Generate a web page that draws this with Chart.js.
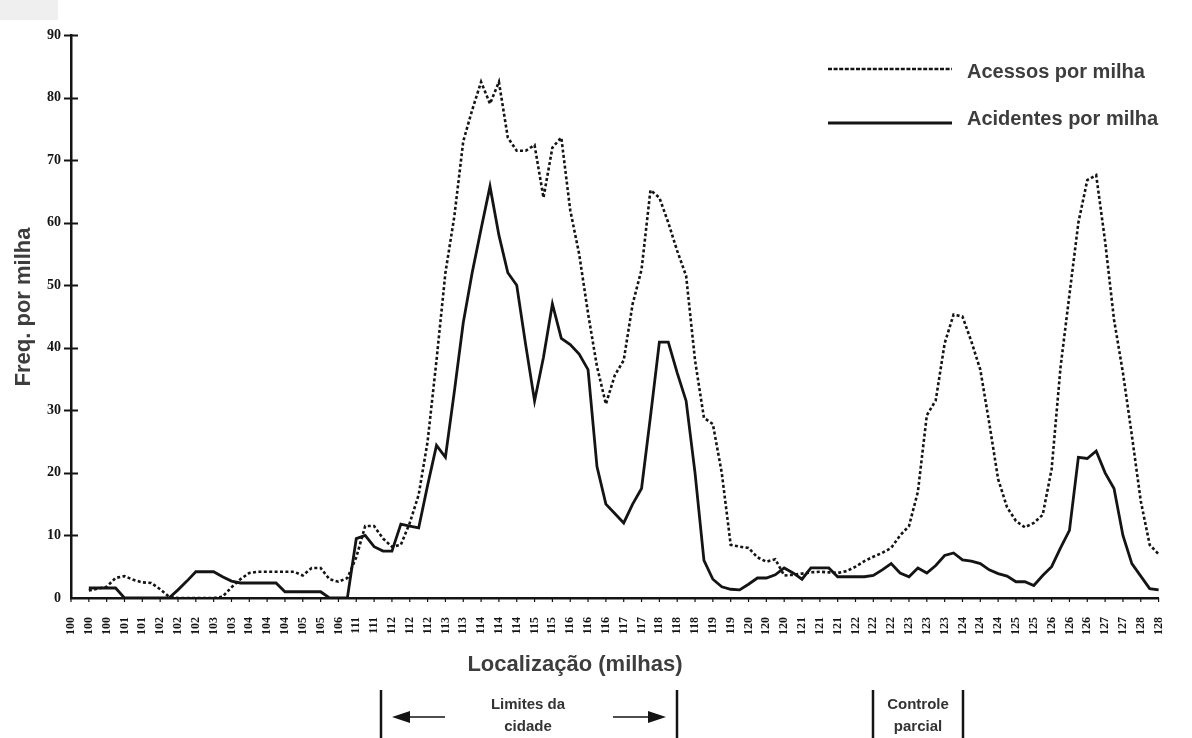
<!DOCTYPE html>
<html>
<head>
<meta charset="utf-8">
<script src="https://cdn.jsdelivr.net/npm/chart.js@4.4.1/dist/chart.umd.min.js"></script>
<style>
  html, body { margin: 0; padding: 0; background: #fff; }
  #wrap { width: 1192px; height: 738px; }
</style>
</head>
<body>
<div id="wrap"><canvas id="chart" width="1192" height="738"></canvas></div>
<script>
// tick labels along the road (miles), one per tick
const tickLabels = ['100','100','100','101','101','102','102','102','103','103','104','104','104','105','105','106',
  '111','111','112','112','112','113','113','114','114','114','115','115','116','116','116','117','117',
  '118','118','118','119','119','120','120','120','121','121','121','122','122','122','123','123','123',
  '124','124','124','125','125','126','126','126','127','127','128','128'];

// readings are taken at every half tick
const accesses = [null, null,
  1.2, 1.5, 1.8, 3.2, 3.5, 2.9, 2.5, 2.4, 1.4, 0.2,
  0, 0, 0, 0, 0, 0.2, 1.7, 3.0, 4.0, 4.2,
  4.2, 4.2, 4.2, 4.2, 3.6, 4.8, 4.8, 3.0, 2.6, 3.2,
  6.5, 11.5, 11.5, 9.5, 8.2, 8.5, 12, 16.5, 25, 38,
  52, 61, 73, 78, 82.5, 79, 82.5, 73.6, 71.5, 71.5,
  72.4, 64, 72, 73.6, 62, 55, 45.5, 37, 31, 35.6,
  38, 47, 52.5, 65.2, 64, 60, 55.5, 51.5, 38, 28.8,
  27.8, 20, 8.5, 8.2, 8.0, 6.5, 5.8, 6.2, 3.6, 3.7,
  3.9, 4.1, 4.2, 4.1, 4.0, 4.3, 5.0, 5.9, 6.6, 7.2,
  8, 10, 11.5, 17, 29.2, 31.6, 40.7, 45.3, 45, 41,
  36.5, 28, 19, 14.5, 12.3, 11.3, 12, 13.3, 20.6, 36.9,
  48.5, 60, 66.8, 67.6, 57, 44.5, 36, 26, 15.5, 8.5, 7];

const accidents = [null, null,
  1.6, 1.6, 1.6, 1.6, 0, 0, 0, 0, 0, 0,
  1.3, 2.7, 4.2, 4.2, 4.2, 3.4, 2.7, 2.4, 2.4, 2.4,
  2.4, 2.4, 1.0, 1.0, 1.0, 1.0, 1.0, 0, 0, 0,
  9.5, 10, 8.2, 7.5, 7.5, 11.8, 11.5, 11.2, 18, 24.4,
  22.5, 33, 44, 52, 59, 65.8, 58, 52, 50, 40.5,
  31.5, 38.5, 47, 41.5, 40.5, 39, 36.5, 21, 15, 13.5,
  12, 15, 17.5, 29, 40.9, 40.9, 36, 31.5, 20, 6,
  3, 1.8, 1.4, 1.3, 2.2, 3.2, 3.2, 3.7, 4.8, 4,
  3, 4.8, 4.8, 4.8, 3.4, 3.4, 3.4, 3.4, 3.6, 4.5,
  5.5, 4.0, 3.4, 4.8, 4.0, 5.2, 6.8, 7.2, 6.1, 5.9,
  5.5, 4.5, 3.9, 3.5, 2.6, 2.6, 2.0, 3.6, 5, 8,
  10.8, 22.5, 22.3, 23.5, 20, 17.5, 10, 5.5, 3.5, 1.5, 1.3];

const yTicks = [0, 10, 20, 30, 40, 50, 60, 70, 80, 90];

// categories at half ticks: labelled ones get the mile, the others stay empty
const categories = [];
tickLabels.forEach((t, i) => {
    categories.push(t);
    if (i < tickLabels.length - 1) categories.push('');
});

const sans = '"Liberation Sans", Arial, sans-serif';
const serif = '"Liberation Serif", "Times New Roman", serif';
const ink = '#141414';
const grey = '#3d3d3d';

// extra drawing: crossing ticks, titles, legend and the notes under the axis
const decorations = {
    id: 'decorations',
    afterDraw(chart) {
        const ctx = chart.ctx;
        const xs = chart.scales.x;
        const ys = chart.scales.y;
        const area = chart.chartArea;
        ctx.save();

        ctx.fillStyle = '#efefef';
        ctx.fillRect(0, 0, 58, 20);

        ctx.strokeStyle = ink;
        ctx.lineWidth = 2;
        yTicks.forEach(v => {
            if (v === 0) return;
            const py = Math.round(ys.getPixelForValue(v)) + 0.5;
            ctx.beginPath();
            ctx.moveTo(area.left - 7, py);
            ctx.lineTo(area.left + 7, py);
            ctx.stroke();
        });
        ctx.lineWidth = 1.2;
        for (let i = 0; i < categories.length; i += 2) {
            const px = xs.getPixelForValue(i);
            ctx.beginPath();
            ctx.moveTo(px, area.bottom);
            ctx.lineTo(px, area.bottom + 4);
            ctx.stroke();
        }

        // axis titles
        ctx.fillStyle = grey;
        ctx.font = 'bold 22px ' + sans;
        ctx.textAlign = 'center';
        ctx.textBaseline = 'middle';
        ctx.save();
        ctx.translate(24, 307);
        ctx.rotate(-Math.PI / 2);
        ctx.fillText('Freq. por milha', 0, 0);
        ctx.restore();
        ctx.fillText('Localização (milhas)', 575, 665);

        // legend
        ctx.strokeStyle = ink;
        ctx.lineWidth = 2.5;
        ctx.setLineDash([4, 1.6]);
        ctx.beginPath();
        ctx.moveTo(828, 69);
        ctx.lineTo(952, 69);
        ctx.stroke();
        ctx.setLineDash([]);
        ctx.lineWidth = 3;
        ctx.beginPath();
        ctx.moveTo(828, 123);
        ctx.lineTo(952, 123);
        ctx.stroke();
        ctx.fillStyle = grey;
        ctx.font = 'bold 20px ' + sans;
        ctx.textAlign = 'left';
        ctx.fillText('Acessos por milha', 967, 72);
        ctx.fillText('Acidentes por milha', 967, 119);

        // notes under the axis
        ctx.lineWidth = 2.5;
        [381, 677, 873, 963].forEach(px => {
            ctx.beginPath();
            ctx.moveTo(px, 690);
            ctx.lineTo(px, 738);
            ctx.stroke();
        });
        ctx.font = 'bold 15px ' + sans;
        ctx.textAlign = 'center';
        ctx.fillStyle = '#333';
        ctx.fillText('Limites da', 528, 705);
        ctx.fillText('cidade', 528, 727);
        ctx.fillText('Controle', 918, 705);
        ctx.fillText('parcial', 918, 727);

        ctx.fillStyle = ink;
        ctx.lineWidth = 1.6;
        ctx.beginPath();
        ctx.moveTo(445, 717);
        ctx.lineTo(405, 717);
        ctx.moveTo(613, 717);
        ctx.lineTo(652, 717);
        ctx.stroke();
        ctx.beginPath();
        ctx.moveTo(392, 717);
        ctx.lineTo(410, 711);
        ctx.lineTo(410, 723);
        ctx.closePath();
        ctx.moveTo(666, 717);
        ctx.lineTo(648, 711);
        ctx.lineTo(648, 723);
        ctx.closePath();
        ctx.fill();

        ctx.restore();
    }
};

new Chart(document.getElementById('chart'), {
    type: 'line',
    data: {
        labels: categories,
        datasets: [{
            label: 'Acessos por milha',
            data: accesses,
            borderColor: ink,
            borderWidth: 2.6,
            borderDash: [3, 2.4],
            pointRadius: 0,
            tension: 0,
            fill: false
        }, {
            label: 'Acidentes por milha',
            data: accidents,
            borderColor: ink,
            borderWidth: 2.8,
            pointRadius: 0,
            tension: 0,
            fill: false
        }]
    },
    options: {
        responsive: false,
        animation: false,
        devicePixelRatio: 1,
        layout: { padding: { top: 35, right: 27, left: 0, bottom: 0 } },
        plugins: {
            legend: { display: false },
            tooltip: { enabled: false }
        },
        scales: {
            x: {
                offset: false,
                afterFit: s => { s.height = 140; },
                grid: { display: false, drawTicks: false },
                border: { display: true, color: ink, width: 2.5 },
                ticks: {
                    autoSkip: false,
                    maxRotation: 90,
                    minRotation: 90,
                    padding: 19,
                    color: ink,
                    font: { family: serif, size: 12, weight: 'bold' }
                }
            },
            y: {
                min: 0,
                max: 90,
                afterFit: s => { s.width = 71; },
                afterBuildTicks: s => { s.ticks = yTicks.map(v => ({ value: v })); },
                grid: { display: false, drawTicks: false },
                border: { display: true, color: ink, width: 2.5 },
                ticks: {
                    padding: 10,
                    color: ink,
                    font: { family: serif, size: 14, weight: 'bold' }
                }
            }
        }
    },
    plugins: [decorations]
});
</script>
</body>
</html>
